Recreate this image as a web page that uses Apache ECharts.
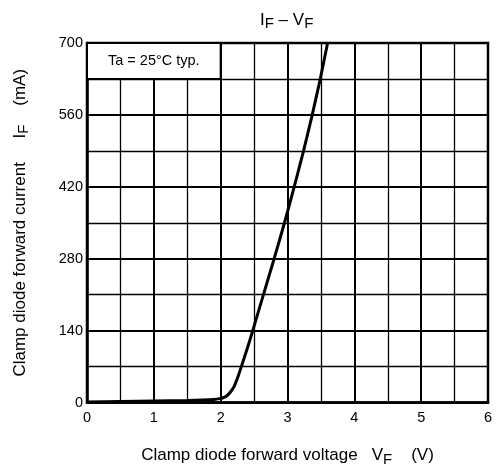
<!DOCTYPE html>
<html>
<head>
<meta charset="utf-8">
<script src="https://cdn.jsdelivr.net/npm/echarts@6/dist/echarts.min.js"></script>
<style>
html,body{margin:0;padding:0;background:#fff;}
#chart{width:502px;height:472px;}
</style>
</head>
<body>
<div id="chart"></div>
<script>
// Forward voltage VF (V) and forward current IF (mA)
const vfValues = [0, 0.5, 1.0, 1.5, 1.9, 2.0, 2.05, 2.1, 2.15, 2.2, 2.25, 2.3, 2.4, 2.48, 2.64, 2.80, 2.955, 3.10, 3.24, 3.37, 3.49, 3.6];
const ifValues = [1, 2, 3, 4, 6, 8, 10, 14, 21, 31, 47, 66, 106, 140, 210, 280, 350, 420, 490, 560, 630, 700];
const xTicks = [0, 1, 2, 3, 4, 5, 6];
const yTicks = [0, 140, 280, 420, 560, 700];
const noteText = 'Ta = 25°C typ.';

const FONT = 'Liberation Sans, Arial, sans-serif';
const chart = echarts.init(document.getElementById('chart'), null, {renderer: 'canvas'});

const curve = vfValues.map((v, i) => [v, ifValues[i]]);

const nameRich = {
  t: {fontFamily: FONT, fontSize: 17, color: '#000', lineHeight: 22},
  s: {fontFamily: FONT, fontSize: 15, color: '#000', lineHeight: 22, padding: [8, 0, 0, 0]}
};

chart.setOption({
  animation: false,
  backgroundColor: '#fff',
  title: {
    text: '{a|I}{s|F}{a| – V}{s|F}',
    left: 255,
    top: 4,
    textStyle: {
      fontWeight: 'normal',
      rich: {
        a: {fontFamily: FONT, fontSize: 17, fontWeight: 'normal', color: '#000', lineHeight: 22},
        s: {fontFamily: FONT, fontSize: 15, fontWeight: 'normal', color: '#000', lineHeight: 22, padding: [8, 0, 0, 0]}
      }
    }
  },
  grid: {
    left: 87, top: 43, width: 401, height: 360,
    show: true, borderColor: '#000', borderWidth: 2.5, backgroundColor: 'transparent'
  },
  xAxis: {
    type: 'value',
    min: xTicks[0], max: xTicks[xTicks.length - 1], interval: 1,
    name: '{t|Clamp diode forward voltage   V}{s|F}{t|    (V)}',
    nameLocation: 'middle',
    nameGap: 42,
    nameTextStyle: {rich: nameRich},
    axisLine: {show: true, lineStyle: {color: '#000', width: 2.5}},
    axisTick: {show: false},
    axisLabel: {fontFamily: FONT, fontSize: 14.5, color: '#000', margin: 8},
    splitLine: {show: true, lineStyle: {color: '#000', width: 2}},
    minorTick: {show: false, splitNumber: 2},
    minorSplitLine: {show: true, lineStyle: {color: '#000', width: 1.3}}
  },
  yAxis: {
    type: 'value',
    min: yTicks[0], max: yTicks[yTicks.length - 1], interval: 140,
    name: '{t|Clamp diode forward current     I}{s|F}{t|    (mA)}',
    nameLocation: 'middle',
    nameGap: 56,
    nameTextStyle: {rich: nameRich},
    axisLine: {show: true, lineStyle: {color: '#000', width: 2.5}},
    axisTick: {show: false},
    axisLabel: {fontFamily: FONT, fontSize: 14.5, color: '#000', margin: 4},
    splitLine: {show: true, lineStyle: {color: '#000', width: 2}},
    minorTick: {show: false, splitNumber: 2},
    minorSplitLine: {show: true, lineStyle: {color: '#000', width: 1.3}}
  },
  series: [{
    type: 'line',
    data: curve,
    smooth: 0.2,
    showSymbol: false,
    lineStyle: {color: '#000', width: 3},
    markArea: {
      silent: true,
      itemStyle: {color: '#fff', borderColor: '#000', borderWidth: 2},
      label: {show: true, position: 'inside', fontFamily: FONT, fontSize: 14.5, color: '#000', formatter: noteText},
      data: [[{coord: [0, 630]}, {coord: [2, 700]}]]
    }
  }]
});
</script>
</body>
</html>
